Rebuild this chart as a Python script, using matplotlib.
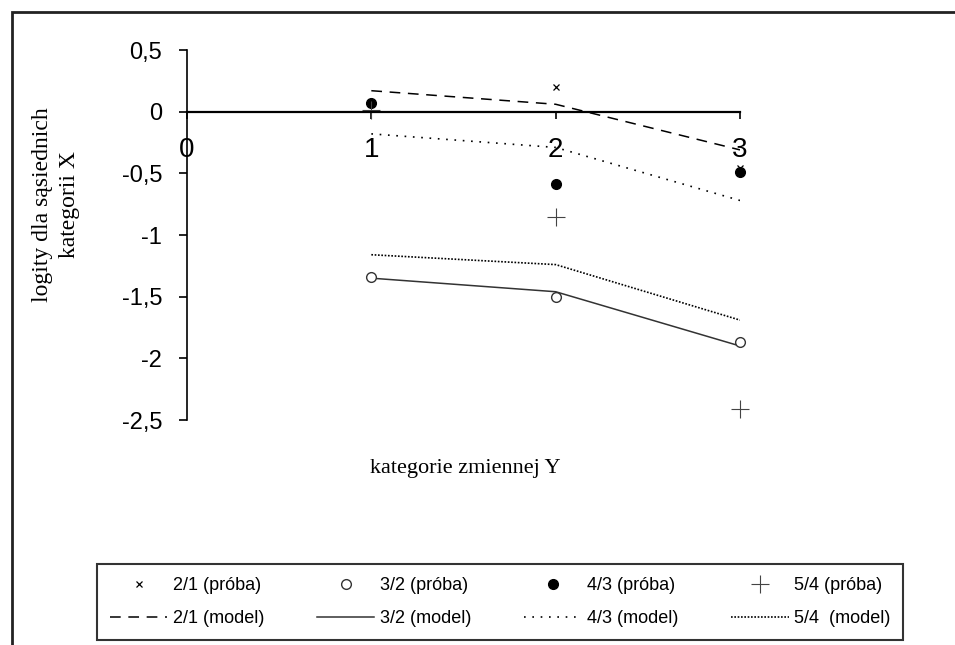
import matplotlib
matplotlib.use('Agg')
import matplotlib.pyplot as plt
from matplotlib.patches import Rectangle

# data
kat = [1, 2, 3]
p21 = [0.06, 0.20, -0.46]     # 2/1 (próba)
p32 = [-1.34, -1.50, -1.87]   # 3/2 (próba)
p43 = [0.07, -0.585, -0.49]   # 4/3 (próba)
p54 = [0.01, -0.85, -2.41]    # 5/4 (próba)
m21 = [0.17, 0.06, -0.31]     # 2/1 (model)
m32 = [-1.35, -1.46, -1.90]   # 3/2 (model)
m43 = [-0.18, -0.29, -0.72]   # 4/3 (model)
m54 = [-1.16, -1.24, -1.69]   # 5/4 (model)

yticks = [0.5, 0, -0.5, -1, -1.5, -2, -2.5]
ytick_labels = ['0,5', '0', '-0,5', '-1', '-1,5', '-2', '-2,5']
xticks = [0, 1, 2, 3]

sans = 'Liberation Sans'
serif = 'Liberation Serif'

fig = plt.figure(figsize=(9.55, 6.45), dpi=100)
ax = fig.add_axes([187/955, 1 - 420/645, 553/955, 370/645])

# model lines
l21, = ax.plot(kat, m21, color='black', lw=1.1, dashes=(7, 5), label='2/1 (model)')
l32, = ax.plot(kat, m32, color='#333333', lw=1.1, ls='-', label='3/2 (model)')
l43, = ax.plot(kat, m43, color='black', lw=1.2, dashes=(1, 4), label='4/3 (model)')
l54, = ax.plot(kat, m54, color='black', lw=1.2, dashes=(1, 1), label='5/4  (model)')

# sample points
s21, = ax.plot(kat, p21, ls='none', marker='x', ms=5, mew=0.9, color='black', label='2/1 (próba)')
s32, = ax.plot(kat, p32, ls='none', marker='o', ms=7, mew=1.0, mfc='white', mec='#333333', label='3/2 (próba)')
s43, = ax.plot(kat, p43, ls='none', marker='o', ms=7, color='black', label='4/3 (próba)')
s54, = ax.plot(kat, p54, ls='none', marker='+', ms=13, mew=0.8, color='#444444', label='5/4 (próba)')
for art in (s21, s32, s43, s54):
    art.set_clip_on(False)

ax.set_xlim(0, 3)
ax.set_ylim(-2.5, 0.5)
ax.spines['top'].set_visible(False)
ax.spines['right'].set_visible(False)
ax.spines['bottom'].set_position(('data', 0))
ax.spines['bottom'].set_linewidth(1.6)
ax.spines['left'].set_linewidth(1.2)
ax.patch.set_alpha(0)

ax.set_yticks(yticks)
ax.set_yticklabels(ytick_labels, family=sans, fontsize=17)
ax.set_xticks(xticks)
ax.set_xticklabels([str(v) for v in xticks], family=sans, fontsize=20)
ax.tick_params(axis='y', direction='out', length=6, width=1.2, pad=12)
ax.tick_params(axis='x', direction='out', length=5, width=1.2, pad=13)

fig.text(465/955, 1 - 468/645, 'kategorie zmiennej Y', family=serif, fontsize=16,
         ha='center', va='center')
fig.text(56/955, 1 - 205/645, 'logity dla sąsiednich\nkategorii X', family=serif,
         fontsize=17, rotation=90, ha='center', va='center', multialignment='center',
         linespacing=1.35)

# outer frame (only left and top edges visible)
fig.patches.append(Rectangle((12/955, -0.05), 1.0, 1 - 12/645 + 0.05,
                             transform=fig.transFigure, fill=False,
                             edgecolor='#222222', lw=2.0))

handles = [s21, l21, s32, l32, s43, l43, s54, l54]
leg = fig.legend(handles=handles, labels=[h.get_label() for h in handles],
                 loc='lower left', bbox_to_anchor=(97/955, 5/645, 806/955, 75/645),
                 mode='expand', ncol=4, frameon=True, fancybox=False,
                 prop={'family': sans, 'size': 13}, handlelength=3.2,
                 handletextpad=0.3, columnspacing=0.8, borderpad=0.7,
                 labelspacing=0.9, borderaxespad=0)
leg.get_frame().set_edgecolor('black')
leg.get_frame().set_linewidth(1.5)

fig.savefig('out.png', dpi=100)
